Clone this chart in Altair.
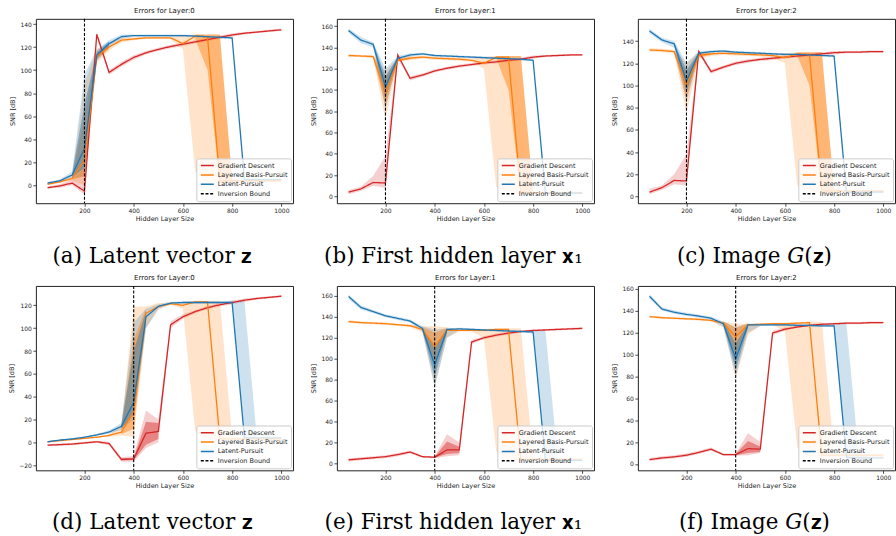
import altair as alt
import pandas as pd

X = [50, 100, 150, 200, 250, 300, 350, 400, 450, 500, 550, 600, 650, 700, 750, 800, 850, 900, 950, 1000]
SERIES = ["Gradient Descent", "Layered Basis-Pursuit", "Latent-Pursuit", "Inversion Bound"]
COLORS = ["#d62728", "#ff7f0e", "#1f77b4", "#000000"]
XTICKS = [200, 400, 600, 800, 1000]
N = None

A_GD = [-2, -0.5, 2, -5, 131, 98, 105, 111, 115, 118, 120.5, 122.5, 124.5, 126.5, 128.5, 130.5, 132, 133, 134, 135]
A_GD_LO = [-3, -2, 0, -8, 128, 96, 103, 109, 113.5, 116.5, 119, 121, 123, 125, 127, 129, 131, 132, 133, 134]
A_GD_HI = [-1, 1, 5, 15, 133, 100, 107, 113, 116.5, 119.5, 122, 124, 126, 128, 130, 132, 133, 134, 135, 136]
A_LBP = [1, 3, 6, 22, 112, 120, 126, 127, 128, 128, 128, 123, 129.5, 129, 4, 4, 4, 4, 4, 4]
A_LBP_LO = [0, 2, 4, 0, 106, 117, 124, 126, 127, 127, 127, 118, 12, 3, 2, 2, 3, 3, 3, 3]
A_LBP_HI = [2, 4, 8, 88, 118, 123, 128, 128.5, 129, 129, 129, 130, 131, 131, 131, 6, 5, 5, 5, 5]
A_LBP_ILO = [N, N, 5, 8, 109, 118, N, N, N, N, N, N, 127, 100, 2, 3, N, N, N, N]
A_LBP_IHI = [N, N, 7, 60, 115, 122, N, N, N, N, N, N, 131, 131, 131, 5, N, N, N, N]
A_LP = [2, 4, 9, 32, 113, 123, 129, 130, 130, 130, 130, 130, 129.5, 129, 128.5, 128, 5, 5, 5, 5]
A_LP_LO = [1, 3, 6, 8, 108, 120, 127, 129, 129, 129, 129, 129, 128.5, 128, 127.5, 127, 4, 4, 4, 4]
A_LP_HI = [3, 5, 12, 96, 118, 126, 131, 131, 131, 131, 131, 131, 130.5, 130, 129.5, 129, 6, 6, 6, 6]
A_LP_ILO = [N, N, 7, 15, 110, 121, N, N, N, N, N, N, N, N, N, N, N, N, N, N]
A_LP_IHI = [N, N, 11, 70, 116, 125, N, N, N, N, N, N, N, N, N, N, N, N, N, N]

B_GD = [4, 7, 13, 12.5, 133, 111, 114, 118, 120.5, 122.5, 124, 125.5, 126.5, 128, 129, 131, 132, 132.5, 133, 133]
B_GD_LO = [2, 5, 10, 8, 130, 109, 112.5, 116.5, 119, 121, 122.5, 124, 125, 126.5, 127.5, 129.5, 131, 131.5, 132, 132]
B_GD_HI = [6, 9, 19, 38, 134, 113, 115.5, 119.5, 122, 124, 125.5, 127, 128, 129.5, 130.5, 132.5, 133, 133.5, 134, 134]
B_LBP = [132.5, 132, 131.5, 97, 128, 130, 131, 130, 129.5, 129, 128, 125, 131, 131, 4, 3.5, 3.5, 3.5, 3.5, 3.5]
B_LBP_LO = [131, 131, 130, 72, 126, 128, 129.5, 128.5, 128, 127.5, 126.5, 120, 9, 3, 2, 2, 2.5, 2.5, 2.5, 2.5]
B_LBP_HI = [134, 133, 133, 118, 130, 132, 132.5, 131.5, 131, 130.5, 129.5, 131, 132, 132, 132, 5, 4.5, 4.5, 4.5, 4.5]
B_LBP_ILO = [N, N, 130.5, 85, 127, 129, N, N, N, N, N, N, 130, 100, 2, 2, N, N, N, N]
B_LBP_IHI = [N, N, 132.5, 112, 129, 131, N, N, N, N, N, N, 132, 132, 132, 5, N, N, N, N]
B_LP = [156, 147, 143, 103, 130, 133, 134, 132.5, 132, 131.5, 131, 130.5, 130, 129.5, 129, 128, 3, 3, 3, 3]
B_LP_LO = [154, 144, 140, 82, 128, 131.5, 133, 131.5, 131, 130.5, 130, 129.5, 129, 128.5, 128, 127, 2, 2, 2, 2]
B_LP_HI = [158, 150, 145, 120, 132, 134.5, 135, 133.5, 133, 132.5, 132, 131.5, 131, 130.5, 130, 129, 4, 4, 4, 4]
B_LP_ILO = [N, N, 141.5, 92, 129, N, N, N, N, N, N, N, N, N, N, N, N, N, N, N]
B_LP_IHI = [N, N, 144.5, 113, 131, N, N, N, N, N, N, N, N, N, N, N, N, N, N, N]

C_GD = [4, 8, 14.5, 14, 130.5, 112.5, 116.5, 120, 122, 123.5, 124.5, 125.5, 126.5, 127.5, 128.5, 129.5, 130, 130, 130.5, 130.5]
C_GD_LO = [2, 6, 11, 10, 128, 110.5, 115, 118.5, 120.5, 122, 123, 124, 125, 126, 127, 128, 129, 129, 129.5, 129.5]
C_GD_HI = [7, 10, 20, 38, 132, 114.5, 118, 121.5, 123.5, 125, 126, 127, 128, 129, 130, 131, 131, 131, 131.5, 131.5]
C_LBP = [132, 131.5, 130.5, 100, 127, 128.5, 129, 128.5, 128, 127.5, 127, 125, 128.5, 128, 5, 5, 5, 5, 5, 5]
C_LBP_LO = [130.5, 130, 129, 75, 124, 126.5, 127.5, 127, 126.5, 126, 125.5, 120, 10, 4, 3, 3, 4, 4, 4, 4]
C_LBP_HI = [133.5, 133, 132, 120, 130, 130, 130.5, 130, 129.5, 129, 128.5, 129, 130, 130, 130, 7, 6, 6, 6, 6]
C_LBP_ILO = [N, N, 129.5, 88, 125.5, 127.5, N, N, N, N, N, N, 127, 100, 3, 3, N, N, N, N]
C_LBP_IHI = [N, N, 131.5, 112, 128.5, 129.5, N, N, N, N, N, N, 130, 130, 130, 7, N, N, N, N]
C_LP = [149, 141, 137.5, 104, 129, 130.5, 131, 130, 129.5, 129, 128.5, 128, 128, 127.5, 127, 126.5, 4, 4, 4, 4]
C_LP_LO = [147, 139, 134, 85, 126, 129.5, 130, 129, 128.5, 128, 127.5, 127, 127, 126.5, 126, 125.5, 3, 3, 3, 3]
C_LP_HI = [151, 143, 140, 120, 131, 131.5, 132, 131, 130.5, 130, 129.5, 129, 129, 128.5, 128, 127.5, 5, 5, 5, 5]
C_LP_ILO = [N, N, 136, 94, 127.5, N, N, N, N, N, N, N, N, N, N, N, N, N, N, N]
C_LP_IHI = [N, N, 139, 114, 130, N, N, N, N, N, N, N, N, N, N, N, N, N, N, N]

D_GD = [-2.5, -2, -1.5, -0.5, 0.5, -1, -15, -14.5, 8, 9.5, 103, 110, 114.5, 118, 120.5, 122.5, 124.5, 126, 127, 128]
D_GD_LO = [-3.5, -3, -2.5, -1.5, -0.5, -2.5, -17, -17, -5, 0, 100, 108, 113, 116.5, 119, 121, 123, 125, 126, 127]
D_GD_HI = [-1.5, -1, -0.5, 0.5, 1.5, 0.5, -13, -12, 28, 20, 106, 112, 116, 119.5, 122, 124, 126, 127, 128, 129]
D_GD_ILO = [N, N, N, N, N, N, -16, -15.5, -2, 3, N, N, N, N, N, N, N, N, N, N]
D_GD_IHI = [N, N, N, N, N, N, -14, -13.5, 18, 17, N, N, N, N, N, N, N, N, N, N]
D_LBP = [0.5, 1.5, 2.5, 3.5, 4.5, 6, 9, 27, 113, 119, 121.5, 120, 123, 123, 3, 3, 3, 3, 3, 3]
D_LBP_LO = [0, 1, 2, 3, 4, 5, 6, 5, 100, 116, 120.5, 117, 10, 3, 2, 2, 2, 2, 2, 2]
D_LBP_HI = [1, 2, 3, 4, 5, 7, 15, 119, 119, 122, 122.5, 123, 124, 124, 124, 5, 4, 4, 4, 4]
D_LBP_ILO = [N, N, N, N, N, N, 7, 12, 106, N, N, N, N, N, N, N, N, N, N, N]
D_LBP_IHI = [N, N, N, N, N, N, 12, 90, 117, N, N, N, N, N, N, N, N, N, N, N]
D_LP = [0.5, 2, 3, 4.5, 6.5, 9, 14, 35, 110, 119, 122, 122.5, 122.5, 122.5, 122.5, 122.5, 4, 4, 4, 4]
D_LP_LO = [0, 1.5, 2.5, 4, 5.5, 7.5, 11, 20, 100, 117, 121, 121.5, 121.5, 121.5, 121.5, 121, 3, 3, 3, 3]
D_LP_HI = [1, 2.5, 3.5, 5, 7.5, 10.5, 17, 105, 117, 121, 123, 123.5, 123.5, 123.5, 123.5, 124, 124, 5, 5, 5]
D_LP_ILO = [N, N, N, N, N, N, 12, 25, 104, N, N, N, N, N, N, N, N, N, N, N]
D_LP_IHI = [N, N, N, N, N, N, 16, 80, 115, N, N, N, N, N, N, N, N, N, N, N]

E_GD = [3.5, 4.5, 5.5, 6.5, 8.5, 11, 6.5, 6, 13, 13, 116, 120, 122.5, 124.5, 126, 127, 127.5, 128, 128.5, 129]
E_GD_LO = [2, 3, 4, 5, 7, 9.5, 5.5, 5, 7, 8, 114, 118.5, 121, 123, 125, 126, 126.5, 127, 127.5, 128]
E_GD_HI = [5, 6, 7, 8, 10, 12.5, 7.5, 7, 28, 20, 118, 121.5, 124, 126, 127, 128, 128.5, 129, 129.5, 130]
E_GD_ILO = [N, N, N, N, N, N, N, 5.5, 9, 10, N, N, N, N, N, N, N, N, N, N]
E_GD_IHI = [N, N, N, N, N, N, N, 6.5, 21, 16, N, N, N, N, N, N, N, N, N, N]
E_LBP = [135.5, 134.5, 134, 133.5, 132.5, 131.5, 128, 112, 127, 127, 127, 127, 128, 128, 4, 4, 4, 4, 4, 4]
E_LBP_LO = [134, 133.5, 133, 132.5, 131.5, 130, 125, 75, 120, 126, 126, 120, 12, 3, 3, 3, 3, 3, 3, 3]
E_LBP_HI = [137, 135.5, 135, 134.5, 133.5, 133, 131, 131, 130, 128, 128, 128.5, 129, 129, 129, 6, 5, 5, 5, 5]
E_LBP_ILO = [N, N, N, N, N, N, 126, 95, 124, N, N, N, N, N, N, N, N, N, N, N]
E_LBP_IHI = [N, N, N, N, N, N, 130, 125, 129, N, N, N, N, N, N, N, N, N, N, N]
E_LP = [159.5, 149, 145, 141, 138.5, 136, 129, 94, 128, 128.5, 128, 127.5, 127, 126.5, 126, 125.5, 3, 3, 3, 3]
E_LP_LO = [157, 147, 143.5, 139.5, 137, 134.5, 126, 72, 120, 127.5, 127, 126.5, 126, 125.5, 125, 124, 2, 2, 2, 2]
E_LP_HI = [161, 151, 146.5, 142.5, 140, 137.5, 131, 128, 129, 129.5, 129, 128.5, 128, 127.5, 127, 127, 127, 5, 4, 4]
E_LP_ILO = [N, N, N, N, N, N, 127.5, 82, 125, N, N, N, N, N, N, N, N, N, N, N]
E_LP_IHI = [N, N, N, N, N, N, 130, 110, 129, N, N, N, N, N, N, N, N, N, N, N]

F_GD = [4, 5.5, 6.5, 8, 10.5, 13.5, 8.5, 8.5, 14, 13.5, 119.5, 123, 125, 126.5, 127.5, 128, 128.5, 128.5, 129, 129]
F_GD_LO = [2.5, 4, 5, 6.5, 9, 12, 7.5, 7.5, 8, 10, 117.5, 121.5, 124, 125.5, 126.5, 127, 127.5, 127.5, 128, 128]
F_GD_HI = [5.5, 7, 8, 9.5, 12, 15, 9.5, 9.5, 28, 20, 121.5, 124.5, 126, 127.5, 128.5, 129, 129.5, 129.5, 130, 130]
F_GD_ILO = [N, N, N, N, N, N, N, 8, 10, 11, N, N, N, N, N, N, N, N, N, N]
F_GD_IHI = [N, N, N, N, N, N, N, 9, 21, 16, N, N, N, N, N, N, N, N, N, N]
F_LBP = [134.5, 133.5, 133, 132.5, 132, 131, 128.5, 116, 127, 127.5, 128, 128, 128.5, 129, 8, 8, 8, 8, 8, 8]
F_LBP_LO = [133.5, 132.5, 132, 131.5, 131, 130, 125, 78, 118, 126.5, 127, 121, 15, 6, 5, 5, 6, 6, 6, 6]
F_LBP_HI = [135.5, 134.5, 134, 133.5, 133, 132, 130, 128, 128, 128.5, 129, 129, 129.5, 130, 129.5, 10, 9, 9, 9, 9]
F_LBP_ILO = [N, N, N, N, N, N, 126.5, 100, 124, N, N, N, N, N, N, N, N, N, N, N]
F_LBP_IHI = [N, N, N, N, N, N, 130, 124, 128.5, N, N, N, N, N, N, N, N, N, N, N]
F_LP = [153, 141.5, 138.5, 136.5, 135, 133, 128, 96, 127, 127, 127, 127, 126.5, 126.5, 126, 126, 6, 5.5, 5.5, 5.5]
F_LP_LO = [151, 140, 137, 135, 133.5, 131.5, 125, 80, 120, 126, 126, 126, 125.5, 125.5, 125, 125, 5, 4.5, 4.5, 4.5]
F_LP_HI = [155, 143, 140, 138, 136.5, 134.5, 130, 125, 128, 128, 128, 128, 127.5, 127.5, 127, 127.5, 128, 8, 6.5, 6.5]
F_LP_ILO = [N, N, N, N, N, N, 127, 86, 124, N, N, N, N, N, N, N, N, N, N, N]
F_LP_IHI = [N, N, N, N, N, N, 130, 110, 128, N, N, N, N, N, N, N, N, N, N, N]

EMPTY = [N] * 20

PANELS = [
    dict(title="Errors for Layer:0", caption="(a) Latent vector 𝐳", bound=200, capy=60,
         ydom=[-15.5, 144.5], yticks=[0, 20, 40, 60, 80, 100, 120, 140],
         gd=(A_GD, A_GD_LO, A_GD_HI, EMPTY, EMPTY),
         lbp=(A_LBP, A_LBP_LO, A_LBP_HI, A_LBP_ILO, A_LBP_IHI),
         lp=(A_LP, A_LP_LO, A_LP_HI, A_LP_ILO, A_LP_IHI)),
    dict(title="Errors for Layer:1", caption="(b) First hidden layer 𝐱₁", bound=200, capy=60,
         ydom=[-6.5, 167], yticks=[0, 20, 40, 60, 80, 100, 120, 140, 160],
         gd=(B_GD, B_GD_LO, B_GD_HI, EMPTY, EMPTY),
         lbp=(B_LBP, B_LBP_LO, B_LBP_HI, B_LBP_ILO, B_LBP_IHI),
         lp=(B_LP, B_LP_LO, B_LP_HI, B_LP_ILO, B_LP_IHI)),
    dict(title="Errors for Layer:2", caption="(c) Image 𝐺(𝐳)", bound=200, capy=60,
         ydom=[-6, 160], yticks=[0, 20, 40, 60, 80, 100, 120, 140],
         gd=(C_GD, C_GD_LO, C_GD_HI, EMPTY, EMPTY),
         lbp=(C_LBP, C_LBP_LO, C_LBP_HI, C_LBP_ILO, C_LBP_IHI),
         lp=(C_LP, C_LP_LO, C_LP_HI, C_LP_ILO, C_LP_IHI)),
    dict(title="Errors for Layer:0", caption="(d) Latent vector 𝐳", bound=400, capy=59,
         ydom=[-24.5, 137], yticks=[-20, 0, 20, 40, 60, 80, 100, 120],
         gd=(D_GD, D_GD_LO, D_GD_HI, D_GD_ILO, D_GD_IHI),
         lbp=(D_LBP, D_LBP_LO, D_LBP_HI, D_LBP_ILO, D_LBP_IHI),
         lp=(D_LP, D_LP_LO, D_LP_HI, D_LP_ILO, D_LP_IHI)),
    dict(title="Errors for Layer:1", caption="(e) First hidden layer 𝐱₁", bound=400, capy=59,
         ydom=[-6.5, 169.5], yticks=[0, 20, 40, 60, 80, 100, 120, 140, 160],
         gd=(E_GD, E_GD_LO, E_GD_HI, E_GD_ILO, E_GD_IHI),
         lbp=(E_LBP, E_LBP_LO, E_LBP_HI, E_LBP_ILO, E_LBP_IHI),
         lp=(E_LP, E_LP_LO, E_LP_HI, E_LP_ILO, E_LP_IHI)),
    dict(title="Errors for Layer:2", caption="(f) Image 𝐺(𝐳)", bound=400, capy=59,
         ydom=[-5.8, 162.5], yticks=[0, 20, 40, 60, 80, 100, 120, 140, 160],
         gd=(F_GD, F_GD_LO, F_GD_HI, F_GD_ILO, F_GD_IHI),
         lbp=(F_LBP, F_LBP_LO, F_LBP_HI, F_LBP_ILO, F_LBP_IHI),
         lp=(F_LP, F_LP_LO, F_LP_HI, F_LP_ILO, F_LP_IHI)),
]

W, H = 258, 185
XDOM = [2.5, 1047.5]

color_scale = alt.Scale(domain=SERIES, range=COLORS)
# band fill scale uses only the three method series (kept separate from the legend scale)
fill_scale = alt.Scale(domain=SERIES[:3], range=COLORS[:3])
dash_scale = alt.Scale(domain=SERIES, range=[[1, 0], [1, 0], [1, 0], [3, 1.7]])

legend = alt.Legend(title=None, orient="bottom-right", offset=2.5, padding=3.5,
                    fillColor="rgba(255,255,255,0.8)", strokeColor="#cccccc",
                    cornerRadius=2, symbolType="stroke", symbolSize=170,
                    symbolStrokeWidth=1.5, labelFontSize=6.5, labelFont="DejaVu Sans",
                    labelColor="#222", rowPadding=1.4, labelOffset=3, clipHeight=7.5)


def make_panel(p):
    rows = []
    for name, key in zip(SERIES[:3], ["gd", "lbp", "lp"]):
        mean, lo, hi, ilo, ihi = p[key]
        for i, xv in enumerate(X):
            rows.append(dict(series=name, x=xv, mean=mean[i], lo=lo[i], hi=hi[i],
                             ilo=ilo[i], ihi=ihi[i]))
    df = pd.DataFrame(rows)
    xenc = alt.X("x:Q", scale=alt.Scale(domain=XDOM, nice=False, zero=False),
                 axis=alt.Axis(values=XTICKS, title="Hidden Layer Size", format="d"))
    yscale = alt.Scale(domain=p["ydom"], nice=False, zero=False)
    yaxis = alt.Axis(values=p["yticks"], title="SNR [dB]")
    base = alt.Chart(df)
    outer = base.mark_area(opacity=0.22, clip=True).encode(
        x=xenc, y=alt.Y("lo:Q", scale=yscale, axis=yaxis), y2="hi:Q",
        fill=alt.Fill("series:N", scale=fill_scale, legend=None))
    inner = base.mark_area(opacity=0.45, clip=True).encode(
        x=xenc, y=alt.Y("ilo:Q", scale=yscale, axis=yaxis), y2="ihi:Q",
        fill=alt.Fill("series:N", scale=fill_scale, legend=None))
    lines = base.mark_line(strokeWidth=1.3, clip=True).encode(
        x=xenc, y=alt.Y("mean:Q", scale=yscale, axis=yaxis),
        color=alt.Color("series:N", scale=color_scale, legend=legend),
        strokeDash=alt.StrokeDash("series:N", scale=dash_scale, legend=legend))
    rule_df = pd.DataFrame({"x": [p["bound"]], "series": ["Inversion Bound"]})
    rule = alt.Chart(rule_df).mark_rule(strokeWidth=1.1).encode(
        x=alt.X("x:Q", scale=alt.Scale(domain=XDOM, nice=False, zero=False)),
        color=alt.Color("series:N", scale=color_scale, legend=legend),
        strokeDash=alt.StrokeDash("series:N", scale=dash_scale, legend=legend))
    cap_df = pd.DataFrame({"t": [p["caption"]]})
    cap = alt.Chart(cap_df).mark_text(font="DejaVu Serif", fontSize=21.5, align="center",
                                      baseline="alphabetic", color="black").encode(
        x=alt.value(W / 2 - 12), y=alt.value(H + p["capy"]), text="t:N")
    return alt.layer(outer, inner, lines, rule, cap).properties(
        width=W, height=H, title=alt.Title(p["title"]))


panels = [make_panel(p) for p in PANELS]

chart = alt.concat(*panels, columns=3, spacing={"row": 83, "column": 44}, bounds="flush").resolve_scale(
    color="independent", strokeDash="independent", fill="independent"
).properties(
    padding={"left": 8, "top": 5, "right": 0, "bottom": 0}, background="white"
).configure_view(
    stroke="#222", strokeWidth=1
).configure_axis(
    grid=False, domain=False, tickColor="#222", tickSize=3, tickWidth=0.8,
    labelFontSize=6, labelFont="DejaVu Sans", labelColor="#222", labelPadding=1.5,
    titleFontSize=6.5, titleFont="DejaVu Sans", titleFontWeight="normal", titleColor="#222",
).configure_axisX(titlePadding=2).configure_axisY(titlePadding=4).configure_title(
    fontSize=7, font="DejaVu Sans", fontWeight="normal", color="#111", offset=0, anchor="middle"
)

chart.save("out.html", embed_options={"renderer": "svg", "actions": False})
